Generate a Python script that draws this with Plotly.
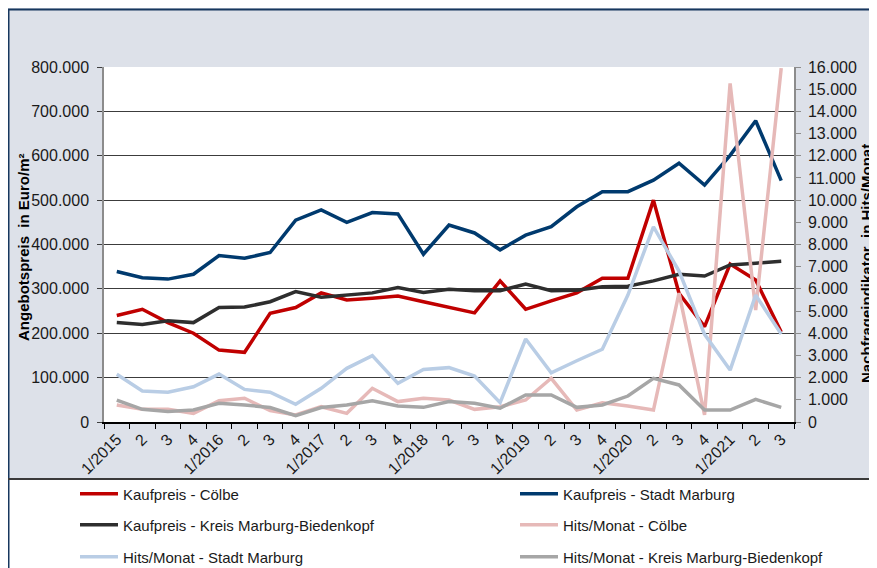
import plotly.graph_objects as go

# quarters 1/2015 .. 3/2021
quarters = [
    '1/2015', '2/2015', '3/2015', '4/2015',
    '1/2016', '2/2016', '3/2016', '4/2016',
    '1/2017', '2/2017', '3/2017', '4/2017',
    '1/2018', '2/2018', '3/2018', '4/2018',
    '1/2019', '2/2019', '3/2019', '4/2019',
    '1/2020', '2/2020', '3/2020', '4/2020',
    '1/2021', '2/2021', '3/2021',
]
tick_text = [
    '1/2015', '2', '3', '4',
    '1/2016', '2', '3', '4',
    '1/2017', '2', '3', '4',
    '1/2018', '2', '3', '4',
    '1/2019', '2', '3', '4',
    '1/2020', '2', '3', '4',
    '1/2021', '2', '3',
]

# Angebotspreis in Euro/m² (left axis)
kauf_coelbe = [240000, 254000, 224000, 200000, 162000, 157000, 245000, 258000, 291000,
               275000, 279000, 284000, 271000, 258000, 246000, 318000, 254000, 273000,
               291000, 324000, 324000, 500000, 290000, 215000, 356000, 320000, 203000]
kauf_marburg = [339000, 325000, 322000, 333000, 375000, 369000, 382000, 455000, 478000,
                450000, 472000, 469000, 378000, 444000, 426000, 388000, 421000, 440000,
                485000, 519000, 519000, 545000, 583000, 534000, 601000, 679000, 544000]
kauf_kreis = [224000, 220000, 228000, 224000, 258000, 259000, 271000, 294000, 281000,
              286000, 291000, 303000, 292000, 299000, 296000, 296000, 311000, 296000,
              297000, 305000, 306000, 318000, 333000, 329000, 354000, 358000, 362000]

# Nachfrageindikator in Hits/Monat (right axis)
hits_coelbe = [770, 570, 570, 390, 960, 1070, 510, 320, 690, 390, 1520, 920, 1070, 990,
               570, 690, 990, 1970, 540, 870, 720, 540, 5810, 320, 15260, 5050, 15950]
hits_marburg = [2150, 1400, 1340, 1590, 2160, 1470, 1340, 800, 1520, 2420, 2990, 1740,
                2370, 2450, 2070, 870, 3740, 2220, 2760, 3280, 5720, 8800, 6800, 3950,
                2340, 5720, 3970]
hits_kreis = [990, 570, 470, 540, 840, 770, 650, 290, 650, 770, 960, 720, 660, 920, 840,
              620, 1220, 1220, 660, 770, 1170, 1970, 1670, 540, 540, 1020, 660]

# the page body keeps its default 8px margin, so the figure starts at (8, 8)
OFF = 8
W, H = 877 - OFF, 568 - OFF
PLOT_X0, PLOT_X1, PLOT_Y0, PLOT_Y1 = 104, 794, 67, 422   # plot area on the page
L, T = PLOT_X0 - OFF, PLOT_Y0 - OFF
PW, PH = PLOT_X1 - PLOT_X0, PLOT_Y1 - PLOT_Y0
R, B = W - L - PW, H - T - PH

FONT = 'Liberation Sans, Arial, sans-serif'
BG = '#DDE1E9'
NAVY = '#17375E'
ITEM_W = 38   # legend symbol width


def px(x):
    # page x -> paper x
    return (x - PLOT_X0) / PW


def py(y):
    # page y -> paper y
    return (PLOT_Y1 - y) / PH


series = [
    ('Kaufpreis - Cölbe', kauf_coelbe, '#C00000', 'y', (123, 494)),
    ('Kaufpreis - Stadt Marburg', kauf_marburg, '#003A6E', 'y', (563, 494)),
    ('Kaufpreis - Kreis Marburg-Biedenkopf', kauf_kreis, '#2E2E2E', 'y', (123, 525)),
    ('Hits/Monat - Cölbe', hits_coelbe, '#E6B9B8', 'y2', (563, 525)),
    ('Hits/Monat - Stadt Marburg', hits_marburg, '#B9CDE5', 'y2', (123, 557)),
    ('Hits/Monat - Kreis Marburg-Biedenkopf', hits_kreis, '#A6A6A6', 'y2', (563, 557)),
]

fig = go.Figure()
legends = {}
for i, (name, vals, color, yax, pos) in enumerate(series):
    lg = 'legend' if i == 0 else 'legend%d' % (i + 1)
    fig.add_trace(go.Scatter(
        x=quarters, y=vals, name=name, mode='lines',
        line=dict(color=color, width=3.5),
        yaxis=yax, legend=lg,
    ))
    legends[lg] = dict(
        x=px(pos[0] - ITEM_W - 10), y=py(pos[1]), xanchor='left', yanchor='middle',
        bgcolor='rgba(0,0,0,0)', borderwidth=0, itemwidth=ITEM_W,
        font=dict(family=FONT, size=15, color='#1a1a1a'),
    )

shapes = [
    # legend area
    dict(type='rect', xref='paper', yref='paper', x0=px(OFF), x1=px(900),
         y0=py(600), y1=py(479), fillcolor='white', line_width=0, layer='below'),
    # frame lines
    dict(type='line', xref='paper', yref='paper', x0=px(OFF), x1=px(900),
         y0=py(9.5), y1=py(9.5), line=dict(color=NAVY, width=2)),
    dict(type='line', xref='paper', yref='paper', x0=px(OFF + 0.5), x1=px(OFF + 0.5),
         y0=py(9), y1=py(600), line=dict(color=NAVY, width=2)),
    dict(type='line', xref='paper', yref='paper', x0=px(OFF), x1=px(900),
         y0=py(479), y1=py(479), line=dict(color='#3A3A3A', width=2)),
]

annotations = [
    dict(text='<b>Angebotspreis  in Euro/m²</b>', xref='paper', yref='paper',
         x=px(23), y=py(247), xanchor='center', yanchor='middle',
         textangle=-90, showarrow=False,
         font=dict(family=FONT, size=15, color='#000000')),
    dict(text='<b>Nachfrageindikator  in Hits/Monat</b>', xref='paper', yref='paper',
         x=px(867), y=py(264), xanchor='center', yanchor='middle',
         textangle=-90, showarrow=False,
         font=dict(family=FONT, size=15, color='#000000')),
]

tick_font = dict(family=FONT, size=16, color='#1a1a1a')

fig.update_layout(
    width=W, height=H,
    margin=dict(l=L, r=R, t=T, b=B, autoexpand=False),
    paper_bgcolor=BG,
    plot_bgcolor='white',
    separators=',.',
    showlegend=True,
    shapes=shapes,
    annotations=annotations,
    xaxis=dict(
        type='category', tickmode='array', tickvals=quarters, ticktext=tick_text,
        tickson='boundaries', tickangle=-45, ticks='outside', ticklen=5,
        tickcolor='#000000', showline=True, linecolor='#000000', linewidth=1.5,
        showgrid=False, tickfont=tick_font, range=[-0.5, 26.5],
    ),
    yaxis=dict(
        range=[0, 800000], dtick=100000, tickformat=',d',
        ticks='outside', ticklen=5, tickcolor='#404040',
        showline=True, linecolor='#8C8C8C', linewidth=1.5,
        showgrid=True, gridcolor='#3C3C3C', gridwidth=1, zeroline=False,
        tickfont=tick_font, ticklabelstandoff=5,
    ),
    yaxis2=dict(
        range=[0, 16000], dtick=1000, tickformat=',d', overlaying='y', side='right',
        ticks='outside', ticklen=5, tickcolor='#8C8C8C',
        showline=True, linecolor='#8C8C8C', linewidth=1.5,
        showgrid=False, zeroline=False, tickfont=tick_font, ticklabelstandoff=4,
    ),
    **legends,
)

fig.write_html('out.html')
